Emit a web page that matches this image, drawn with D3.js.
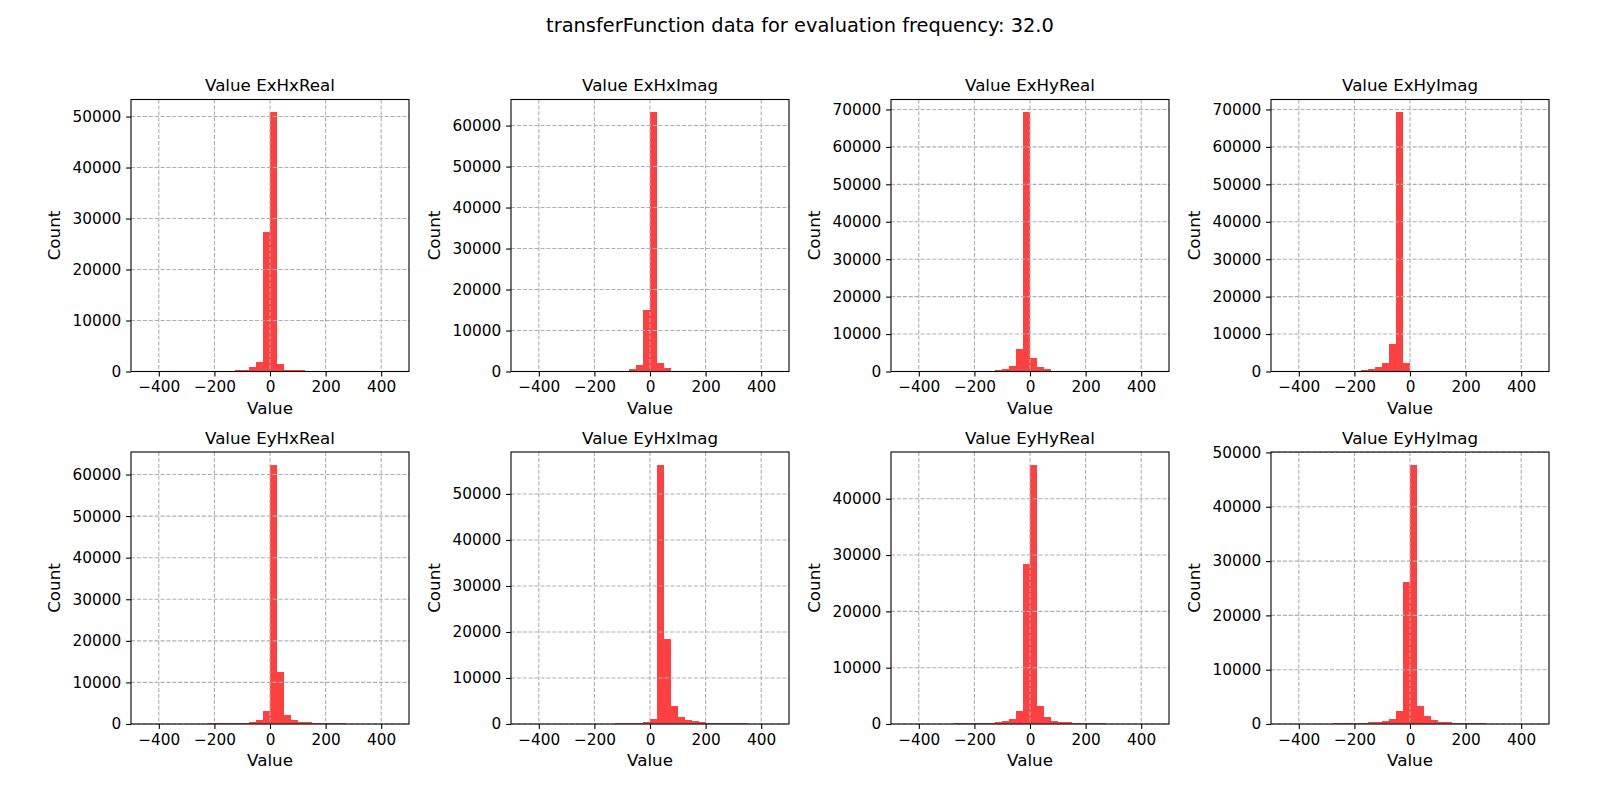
<!DOCTYPE html>
<html><head><meta charset="utf-8">
<script src="https://cdn.jsdelivr.net/npm/d3@7"></script>
<style>
body{margin:0;background:#fff}
svg{display:block}
text{font-family:"DejaVu Sans",sans-serif;fill:#000}
</style>
</head><body>
<svg id="chart" width="1600" height="800"></svg>
<script>
const figureTitle = "transferFunction data for evaluation frequency: 32.0";
const panelNames = ["ExHxReal","ExHxImag","ExHyReal","ExHyImag","EyHxReal","EyHxImag","EyHyReal","EyHyImag"];
const xLabel = "Value";
const yLabel = "Count";
const binStarts = [-500,-475,-450,-425,-400,-375,-350,-325,-300,-275,-250,-225,-200,-175,-150,-125,-100,-75,-50,-25,
                   0,25,50,75,100,125,150,175,200,225,250,275,300,325,350,375,400,425,450,475];
const binWidth = 25;
const xDomain = [-500, 500];
const xTicks = [-400, -200, 0, 200, 400];

const countsExHxReal = [0,0,0,0,0,0,0,0,0,0,0,0,0,0,0,
  200,390,850,1960,27300,50800,1440,390,200,200,
  0,0,0,0,0,0,0,0,0,0,0,0,0,0,0];
const countsExHxImag = [0,0,0,0,0,0,0,0,0,0,0,0,0,0,0,0,
  150,570,1540,15000,63200,2030,810,200,
  0,0,0,0,0,0,0,0,0,0,0,0,0,0,0,0];
const countsExHyReal = [0,0,0,0,0,0,0,0,0,0,0,0,0,0,
  150,300,710,1510,6130,69200,3730,1240,710,250,120,
  0,0,0,0,0,0,0,0,0,0,0,0,0,0,0];
const countsExHyImag = [0,0,0,0,0,0,0,0,0,0,0,0,
  150,350,710,1240,2310,7380,69200,2310,250,
  0,0,0,0,0,0,0,0,0,0,0,0,0,0,0,0,0,0,0];
const countsEyHxReal = [0,0,0,0,0,0,0,0,0,0,0,
  200,250,250,250,300,300,480,960,3130,62300,12530,2170,960,480,480,240,240,240,240,240,
  0,0,0,0,0,0,0,0,0];
const countsEyHxImag = [0,0,0,0,0,0,0,0,0,0,0,0,0,0,0,
  220,220,220,220,430,1090,56300,18500,4000,1600,870,650,430,220,220,200,200,200,200,
  0,0,0,0,0,0];
const countsEyHyReal = [0,0,0,0,0,0,0,0,0,
  120,150,150,180,180,180,360,600,890,2380,28400,46000,3270,1310,540,360,360,180,180,180,150,120,
  0,0,0,0,0,0,0,0,0];
const countsEyHyImag = [0,0,0,0,0,0,0,0,0,
  150,150,200,200,250,300,400,600,900,2400,26200,47700,3400,1400,700,450,350,250,200,200,150,150,
  0,0,0,0,0,0,0,0,0];

const panelCounts = [countsExHxReal,countsExHxImag,countsExHyReal,countsExHyImag,
                     countsEyHxReal,countsEyHxImag,countsEyHyReal,countsEyHyImag];

// layout
const colLeft = [131, 511, 891, 1271];
const rowTop = [99.5, 452];
const pw = 278, ph = 272;
const tickLen = 4.9, tickPad = 4.9;
const tickFont = 15.3, labelFont = 16.7, titleFont = 16.7;

const svg = d3.select("#chart");
svg.append("rect").attr("width",1600).attr("height",800).attr("fill","#fff");

svg.append("text")
  .attr("x", 800).attr("y", 31.5)
  .attr("text-anchor","middle")
  .style("font-size","19.4px")
  .text(figureTitle);

panelNames.forEach((name, i) => {
  const counts = panelCounts[i];
  const left = colLeft[i % 4], top = rowTop[Math.floor(i / 4)];
  const g = svg.append("g").attr("transform", `translate(${left},${top})`);
  const x = d3.scaleLinear().domain(xDomain).range([0, pw]);
  const ymax = d3.max(counts) * 1.05;
  const y = d3.scaleLinear().domain([0, ymax]).range([ph, 0]);
  const yTicks = y.ticks(6);

  const bins = binStarts.map((s, k) => ({x0: s, x1: s + binWidth, c: counts[k]})).filter(d => d.c > 0);

  g.append("g").selectAll("rect").data(bins).join("rect")
    .attr("x", d => x(d.x0))
    .attr("width", d => x(d.x1) - x(d.x0))
    .attr("y", d => y(d.c))
    .attr("height", d => y(0) - y(d.c))
    .attr("fill", "#ff0000")
    .attr("fill-opacity", 0.75)
    .attr("shape-rendering","crispEdges");

  // grid (above bars, like matplotlib default)
  const grid = g.append("g").attr("stroke","#b0b0b0").attr("stroke-width",1.1).attr("stroke-dasharray","4.1,1.8");
  grid.selectAll("line.vx").data(xTicks).join("line")
    .attr("x1", d => x(d)).attr("x2", d => x(d)).attr("y1", 0).attr("y2", ph);
  grid.selectAll("line.hy").data(yTicks).join("line")
    .attr("x1", 0).attr("x2", pw).attr("y1", d => y(d)).attr("y2", d => y(d));

  // frame
  g.append("rect").attr("x",0).attr("y",0).attr("width",pw).attr("height",ph)
    .attr("fill","none").attr("stroke","#000").attr("stroke-width",1.1);

  // axes
  const xa = g.append("g").attr("transform", `translate(0,${ph})`)
    .call(d3.axisBottom(x).tickValues(xTicks).tickSize(tickLen).tickPadding(tickPad).tickSizeOuter(0));
  const ya = g.append("g")
    .call(d3.axisLeft(y).tickValues(yTicks).tickFormat(d3.format("d")).tickSize(tickLen).tickPadding(tickPad).tickSizeOuter(0));
  [xa, ya].forEach(a => {
    a.attr("font-family", null).attr("font-size", null);
    a.select(".domain").remove();
    a.selectAll(".tick line").attr("stroke","#000").attr("stroke-width",1.1);
    a.selectAll(".tick text").style("font-size", tickFont + "px").attr("fill","#000");
  });

  g.append("text").attr("x", pw/2).attr("y", -8.3)
    .attr("text-anchor","middle").style("font-size", titleFont + "px")
    .text("Value " + name);
  g.append("text").attr("x", pw/2).attr("y", ph + 42)
    .attr("text-anchor","middle").style("font-size", labelFont + "px")
    .text(xLabel);
  g.append("text").attr("transform", `translate(-71,${ph/2}) rotate(-90)`)
    .attr("text-anchor","middle").style("font-size", labelFont + "px")
    .text(yLabel);
});
</script>
</body></html>
